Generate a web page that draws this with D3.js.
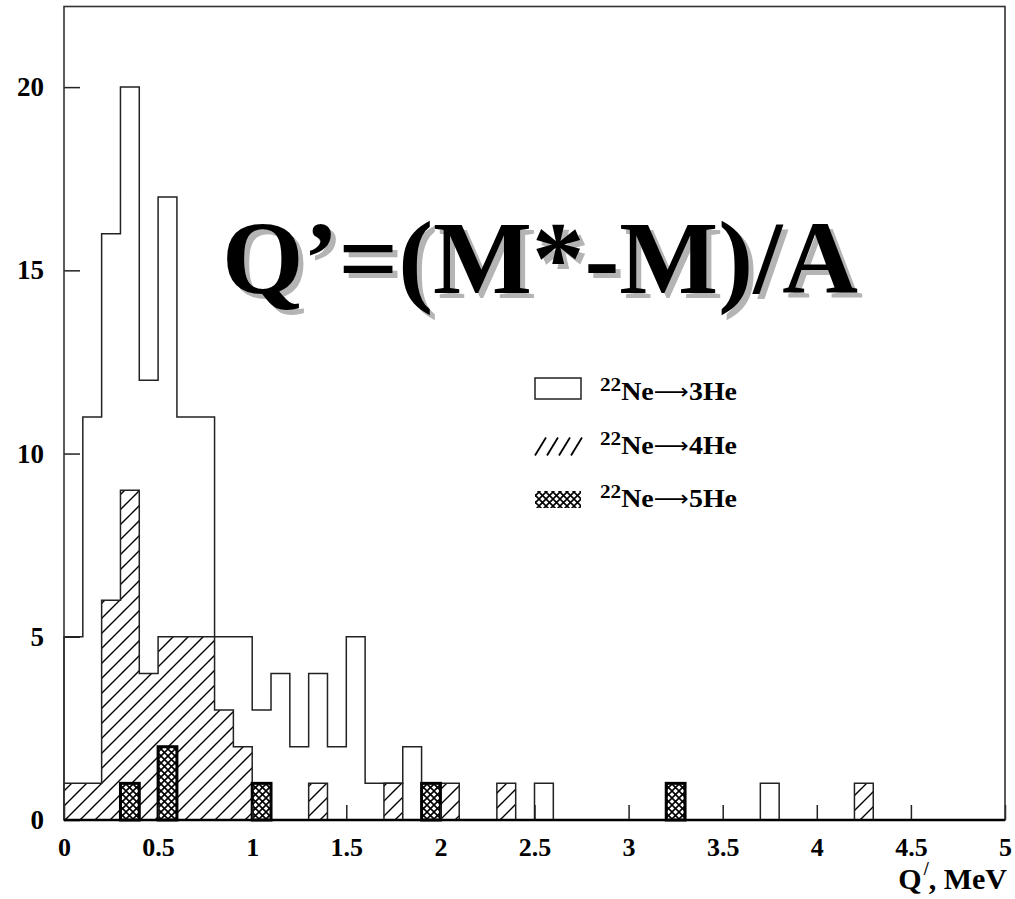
<!DOCTYPE html>
<html>
<head>
<meta charset="utf-8">
<style>
  body { margin: 0; background: #fff; }
  text { font-family: "Liberation Serif", "Times New Roman", serif; font-weight: bold; }
  .axis .domain { display: none; }
  .arrow { font-family: "DejaVu Sans", sans-serif; font-weight: normal; }
</style>
</head>
<body>
<svg width="1015" height="899"></svg>
<script src="https://cdn.jsdelivr.net/npm/d3@7/dist/d3.min.js"></script>
<script>

// bins of 0.1 MeV from 0 to 5
var binWidth = 0.1;
var bins = d3.range(50).map(function(i) { return +(i * binWidth).toFixed(1); });

// counts per bin
var he3 = [5, 11, 16, 20, 12, 17, 11, 11, 5, 5,
           3, 4, 2, 4, 2, 5, 1, 1, 2, 1,
           0, 0, 0, 0, 0, 1, 0, 0, 0, 0,
           0, 0, 0, 0, 0, 0, 0, 1, 0, 0,
           0, 0, 0, 0, 0, 0, 0, 0, 0, 0];
var he4 = [1, 1, 6, 9, 4, 5, 5, 5, 3, 2,
           0, 0, 0, 1, 0, 0, 0, 1, 0, 0,
           1, 0, 0, 1, 0, 0, 0, 0, 0, 0,
           0, 0, 0, 0, 0, 0, 0, 0, 0, 0,
           0, 0, 1, 0, 0, 0, 0, 0, 0, 0];
var he5 = [0, 0, 0, 1, 0, 2, 0, 0, 0, 0,
           1, 0, 0, 0, 0, 0, 0, 0, 0, 1,
           0, 0, 0, 0, 0, 0, 0, 0, 0, 0,
           0, 0, 1, 0, 0, 0, 0, 0, 0, 0,
           0, 0, 0, 0, 0, 0, 0, 0, 0, 0];

var xTicks = [0, 0.5, 1, 1.5, 2, 2.5, 3, 3.5, 4, 4.5, 5];
var yTicks = [0, 5, 10, 15, 20];
var legendLabels = ["3He", "4He", "5He"];

var svg = d3.select("svg");

var x = d3.scaleLinear().domain([0, 5]).range([64, 1005]);
var y = d3.scaleLinear().domain([0, 22.2]).range([820, 6.5]);

// patterns
var defs = svg.append("defs");

var hatch = defs.append("pattern")
  .attr("id", "hatch")
  .attr("patternUnits", "userSpaceOnUse")
  .attr("width", 15)
  .attr("height", 15);
hatch.append("rect").attr("width", 15).attr("height", 15).attr("fill", "#fff");
hatch.append("path")
  .attr("d", "M-2,2 L2,-2 M0,15 L15,0 M13,17 L17,13")
  .attr("stroke", "#000")
  .attr("stroke-width", 1.4);

var cross = defs.append("pattern")
  .attr("id", "cross")
  .attr("patternUnits", "userSpaceOnUse")
  .attr("width", 7)
  .attr("height", 7);
cross.append("rect").attr("width", 7).attr("height", 7).attr("fill", "#fff");
cross.append("path")
  .attr("d", "M0,0 L7,7 M7,0 L0,7")
  .attr("stroke", "#000")
  .attr("stroke-width", 1.6);

// step outline of a histogram
function steps(values) {
  var pts = [[0, 0]];
  values.forEach(function(v, i) {
    pts.push([bins[i], v]);
    pts.push([bins[i] + binWidth, v]);
  });
  pts.push([5, 0]);
  return d3.line()
    .x(function(d) { return x(d[0]); })
    .y(function(d) { return y(d[1]); })(pts);
}

svg.append("path")
  .attr("d", steps(he3))
  .attr("fill", "none")
  .attr("stroke", "#222")
  .attr("stroke-width", 1.5);

svg.append("path")
  .attr("d", steps(he4))
  .attr("fill", "url(#hatch)")
  .attr("stroke", "#222")
  .attr("stroke-width", 1.5);

svg.append("g")
  .selectAll("rect")
  .data(he5.map(function(v, i) { return { x0: bins[i], v: v }; })
    .filter(function(d) { return d.v > 0; }))
  .enter().append("rect")
  .attr("x", function(d) { return x(d.x0); })
  .attr("y", function(d) { return y(d.v); })
  .attr("width", x(binWidth) - x(0))
  .attr("height", function(d) { return y(0) - y(d.v); })
  .attr("fill", "url(#cross)")
  .attr("stroke", "#000")
  .attr("stroke-width", 3);

// axes
var fmt = function(d) { return String(d); };

var xAxis = svg.append("g")
  .attr("class", "axis")
  .attr("transform", "translate(0,820)")
  .call(d3.axisBottom(x).tickValues(xTicks).tickFormat(fmt)
    .tickSizeInner(-15).tickSizeOuter(0).tickPadding(18));

var yAxis = svg.append("g")
  .attr("class", "axis")
  .attr("transform", "translate(64,0)")
  .call(d3.axisLeft(y).tickValues(yTicks).tickFormat(fmt)
    .tickSizeInner(-16).tickSizeOuter(0).tickPadding(20));

svg.selectAll(".axis line").attr("stroke", "#222").attr("stroke-width", 1.5);
xAxis.selectAll("text").attr("font-size", 26).attr("fill", "#000");
yAxis.selectAll("text").attr("font-size", 27).attr("fill", "#000");

// frame
svg.append("rect")
  .attr("x", x(0))
  .attr("y", y(22.2))
  .attr("width", x(5) - x(0))
  .attr("height", y(0) - y(22.2))
  .attr("fill", "none")
  .attr("stroke", "#333")
  .attr("stroke-width", 1.6);

svg.append("line")
  .attr("x1", x(0)).attr("x2", x(5))
  .attr("y1", y(0)).attr("y2", y(0))
  .attr("stroke", "#000")
  .attr("stroke-width", 2.5);

// axis title
var xt = svg.append("text")
  .attr("x", 1007)
  .attr("y", 889)
  .attr("text-anchor", "end")
  .attr("font-size", 30)
  .attr("fill", "#000");
xt.append("tspan").text("Q");
xt.append("tspan").attr("font-size", 18).attr("dx", 2).attr("dy", -14).text("/");
xt.append("tspan").attr("dy", 14).text(", MeV");

// big formula with grey shadow
var formula = "Q\u2019=(M*-M)/A";
svg.append("text")
  .attr("x", 227).attr("y", 298)
  .attr("font-size", 104)
  .attr("fill", "#b4b4b4")
  .attr("textLength", 636)
  .attr("lengthAdjust", "spacingAndGlyphs")
  .text(formula);
svg.append("text")
  .attr("x", 222).attr("y", 293)
  .attr("font-size", 104)
  .attr("fill", "#000")
  .attr("textLength", 636)
  .attr("lengthAdjust", "spacingAndGlyphs")
  .text(formula);

// legend
var legend = svg.append("g")
  .selectAll("g")
  .data(legendLabels)
  .enter().append("g")
  .attr("transform", function(d, i) { return "translate(0," + (i * 53.5) + ")"; });

legend.each(function(d, i) {
  var g = d3.select(this);
  if (i === 0) {
    g.append("rect")
      .attr("x", 535).attr("y", 378)
      .attr("width", 46).attr("height", 21)
      .attr("fill", "#fff")
      .attr("stroke", "#222")
      .attr("stroke-width", 1.5);
  } else if (i === 1) {
    [0, 1, 2, 3].forEach(function(k) {
      g.append("line")
        .attr("x1", 535 + k * 12).attr("y1", 402)
        .attr("x2", 546 + k * 12).attr("y2", 384)
        .attr("stroke", "#000")
        .attr("stroke-width", 1.8);
    });
  } else {
    g.append("rect")
      .attr("x", 535).attr("y", 384)
      .attr("width", 46).attr("height", 17)
      .attr("fill", "url(#cross)");
  }
  var t = g.append("text")
    .attr("x", 600)
    .attr("y", 400)
    .attr("font-size", 25)
    .attr("fill", "#000")
    .attr("textLength", 137)
    .attr("lengthAdjust", "spacingAndGlyphs");
  t.append("tspan").attr("font-size", 19).attr("dy", -9).text("22");
  t.append("tspan").attr("dy", 9).text("Ne");
  t.append("tspan").attr("class", "arrow").attr("font-size", 22).attr("dy", -1).text("\u27F6");
  t.append("tspan").attr("dy", 1).text(d);
});

</script>
</body>
</html>
